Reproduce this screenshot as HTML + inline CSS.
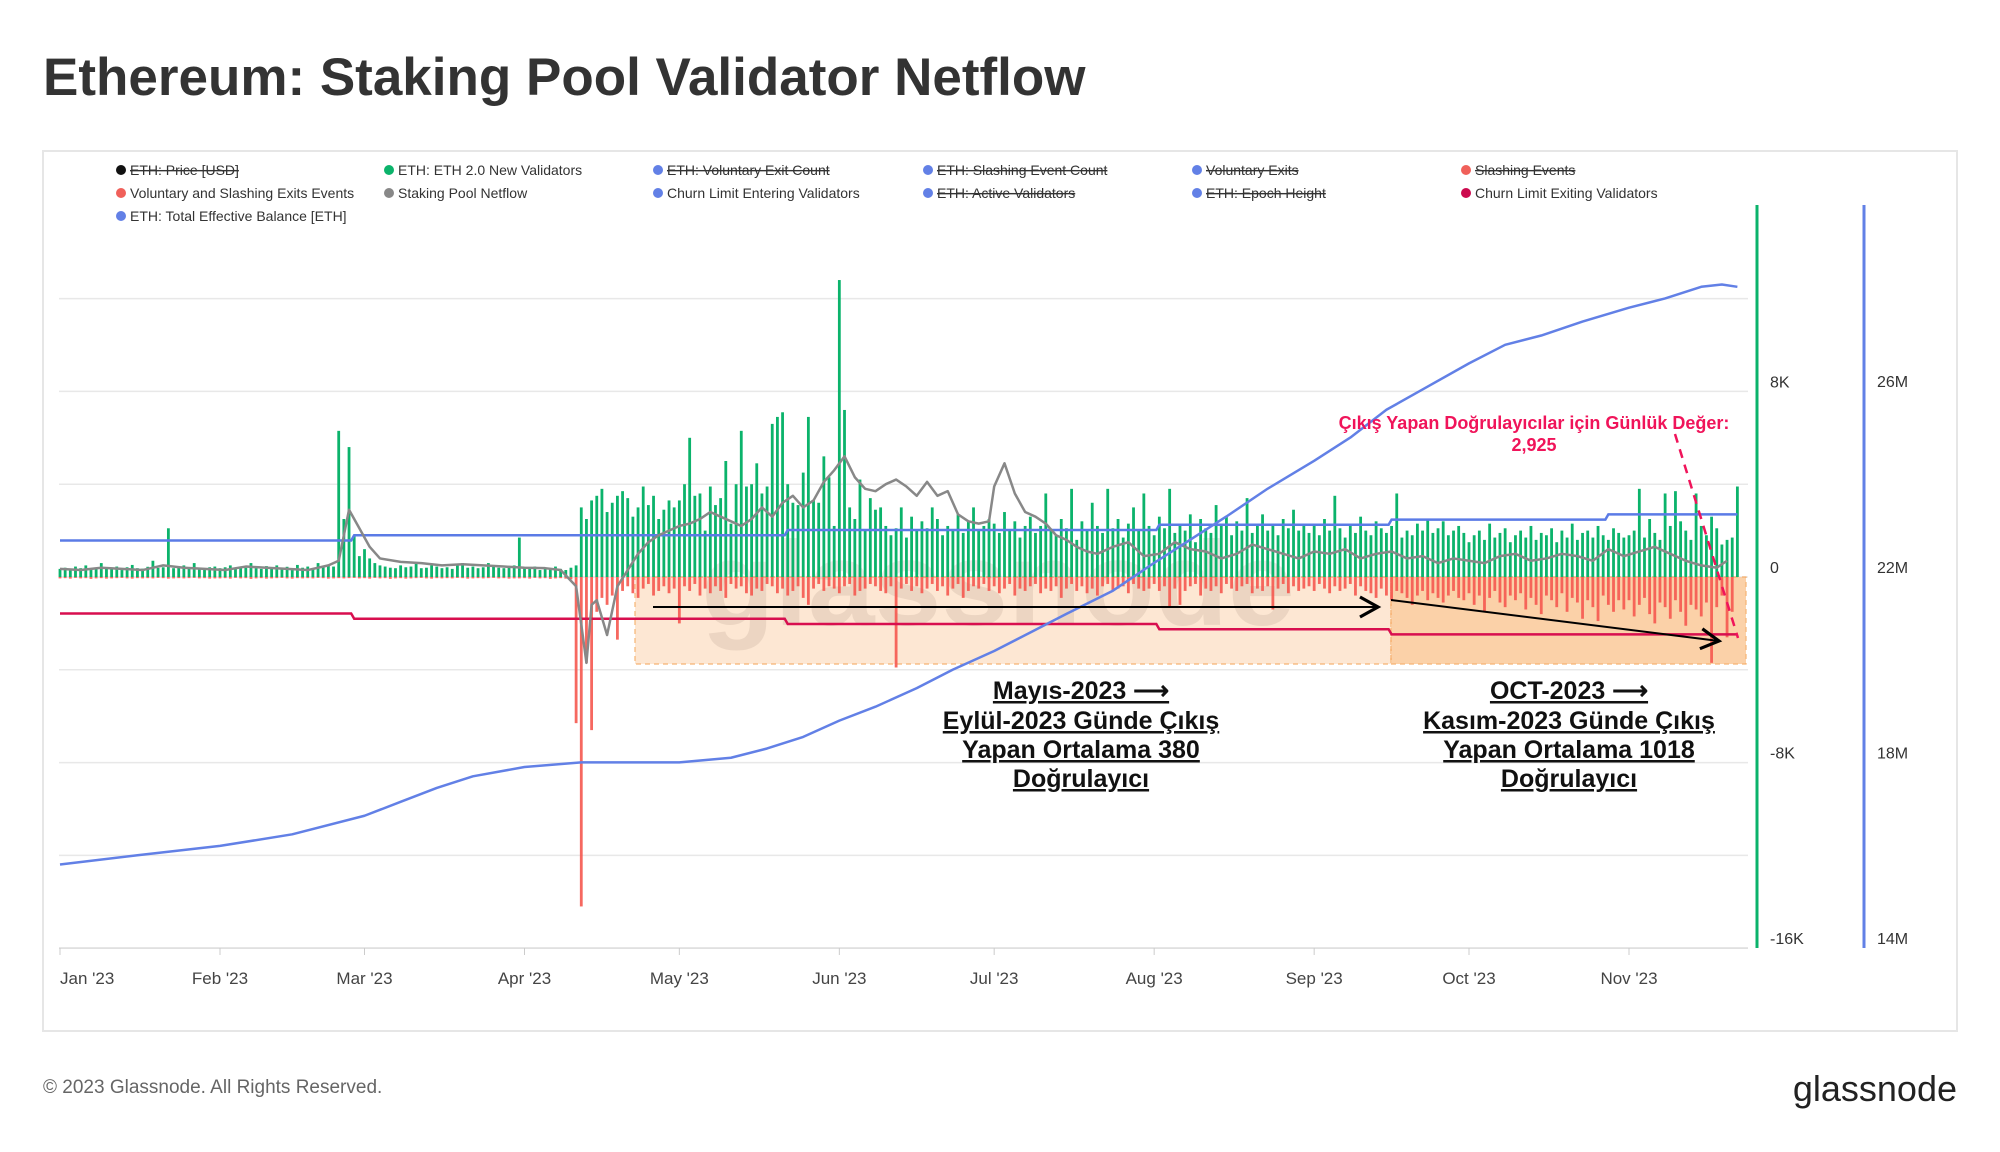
<!DOCTYPE html>
<html><head><meta charset="utf-8">
<style>
html,body{margin:0;padding:0;background:#fff;}
svg{display:block;font-family:"Liberation Sans","Noto Sans CJK JP",sans-serif;}
</style></head>
<body>
<svg id="chart" width="2000" height="1152" viewBox="0 0 2000 1152" xmlns="http://www.w3.org/2000/svg">
<text x="43" y="95" font-size="53" font-weight="600" fill="#333">Ethereum: Staking Pool Validator Netflow</text>
<rect x="43" y="151" width="1914" height="880" fill="none" stroke="#e6e6e6" stroke-width="2"/>
<g id="legend"></g>
<g id="grid"></g>
<rect x="635" y="577" width="756" height="87" fill="#fde3cc" opacity="0.85" stroke="#f5a65b" stroke-dasharray="5,4" stroke-width="1.2"/>
<rect x="1391" y="577" width="355" height="87" fill="#fbc99a" opacity="0.85" stroke="#f5a65b" stroke-dasharray="5,4" stroke-width="1.2"/>
<text x="998" y="625" font-size="120" font-weight="700" fill="#8a7060" opacity="0.14" text-anchor="middle">glassnode</text>
<g id="marks"></g>
<g id="axes"></g>
<defs><marker id="ah" markerWidth="12" markerHeight="12" refX="10" refY="6" orient="auto"><path d="M1,1 L10,6 L1,11" fill="none" stroke="#000" stroke-width="1.6"/></marker></defs>
<line x1="653" y1="607" x2="1378" y2="607" stroke="#000" stroke-width="2" marker-end="url(#ah)"/>
<line x1="1391" y1="600" x2="1719" y2="641" stroke="#000" stroke-width="2" marker-end="url(#ah)"/>
<line x1="1675" y1="434" x2="1738" y2="638" stroke="#f0145a" stroke-width="2.5" stroke-dasharray="9,7"/>
<g font-weight="700" fill="#f0145a" font-size="18" text-anchor="middle">
<text x="1534" y="429">Çıkış Yapan Doğrulayıcılar için Günlük Değer:</text>
<text x="1534" y="451">2,925</text>
</g>
<g font-weight="700" fill="#111" font-size="25" text-anchor="middle" text-decoration="underline">
<text x="1081" y="699">Mayıs-2023 ⟶</text>
<text x="1081" y="729">Eylül-2023 Günde Çıkış</text>
<text x="1081" y="758">Yapan Ortalama 380</text>
<text x="1081" y="787">Doğrulayıcı</text>
</g>
<g font-weight="700" fill="#111" font-size="25" text-anchor="middle" text-decoration="underline">
<text x="1569" y="699">OCT-2023 ⟶</text>
<text x="1569" y="729">Kasım-2023 Günde Çıkış</text>
<text x="1569" y="758">Yapan Ortalama 1018</text>
<text x="1569" y="787">Doğrulayıcı</text>
</g>
<text x="43" y="1093" font-size="19" fill="#666">© 2023 Glassnode. All Rights Reserved.</text>
<text x="1957" y="1101" font-size="36" fill="#222" text-anchor="end">glassnode</text>
</svg>
<script>
// Daily values from Jan 1 2023
const newValidators = [
350,400,300,450,380,500,320,410,600,350,380,450,300,420,520,380,360,440,700,390,420,2100,380,450,500,350,600,400,380,420,450,
380,420,500,360,450,400,600,380,350,470,420,500,380,440,360,520,400,450,380,600,420,500,450,6300,2500,5600,1800,900,
1200,800,600,500,450,400,380,500,420,450,600,380,400,500,450,380,420,350,500,600,400,450,380,420,600,500,400,380,450,500,1700,
400,350,450,300,400,380,450,350,300,400,500,3000,2500,3300,3500,3800,2800,3200,3500,3700,3400,2600,3000,3900,3100,3500,2500,2900,3300,3000,
3300,4000,6000,3500,3600,2000,3900,3100,3400,5000,2300,4000,6300,3900,4000,4900,3600,3900,6600,6900,7100,4000,3200,3100,4500,6900,3300,3200,5200,4300,2200,
12800,7200,3000,2500,4200,2000,3400,2900,3000,2200,1800,2100,3000,1700,2600,2000,2400,2100,3000,2500,1800,2200,2000,2700,1900,2400,3000,2000,2200,2500,
2300,1900,2800,2000,2400,1700,2200,2600,1900,2200,3600,2000,1800,2500,2100,3800,1600,2400,2000,3200,2200,1900,3800,2100,2500,1700,2300,3000,2000,3600,2200,
1800,2600,2100,3800,1900,2300,2000,2700,1500,2500,2100,1900,3100,2200,2600,1800,2400,2000,3400,1900,2300,2700,2000,2200,1800,2500,2100,2900,2000,2300,1900,
2200,1800,2500,2000,3500,2100,1700,2300,1900,2600,2000,1800,2400,2100,1900,2200,3600,1700,2000,1800,2300,2000,2500,1900,2100,2400,1800,2000,2200,1900,
1500,1800,2000,1600,2300,1700,1900,2100,1500,1800,2000,1700,2200,1600,1900,1800,2100,1500,2000,1700,2300,1600,1900,2000,1700,2200,1800,1600,2100,1900,1700,
1800,2000,3800,1700,2500,1900,1600,3600,2200,3700,2400,2000,1600,3600,2200,1800,2600,2100,1400,1600,1700,3900
];
const exits = [
-60,-50,-70,-40,-60,-50,-80,-60,-50,-70,-60,-50,-40,-60,-70,-50,-60,-50,-60,-40,-50,-70,-60,-50,-60,-50,-40,-60,-50,-70,-60,
-60,-50,-70,-40,-60,-50,-80,-60,-50,-70,-60,-50,-40,-60,-70,-50,-60,-50,-60,-40,-50,-70,-60,-50,-60,-50,-40,
-60,-50,-70,-40,-60,-50,-80,-60,-50,-70,-60,-50,-40,-60,-70,-50,-60,-50,-60,-40,-50,-70,-60,-50,-60,-50,-40,-60,-50,-70,-60,
-60,-50,-70,-40,-60,-50,-80,-60,-50,-70,-100,-6300,-14200,-3700,-6600,-1500,-900,-1200,-800,-2700,-600,-400,-700,-900,-500,-300,-800,-600,-400,-700,
-500,-2000,-400,-600,-300,-800,-500,-700,-400,-600,-900,-300,-500,-400,-700,-800,-500,-600,-300,-400,-700,-500,-800,-600,-400,-900,-1200,-500,-300,-600,-400,
-500,-700,-400,-300,-800,-600,-500,-300,-400,-600,-700,-400,-3900,-500,-300,-600,-400,-700,-500,-300,-600,-400,-800,-500,-300,-900,-600,-400,-500,-300,
-600,-400,-700,-500,-300,-800,-500,-600,-400,-300,-700,-500,-600,-400,-900,-500,-300,-600,-400,-700,-500,-800,-400,-300,-600,-500,-400,-700,-300,-500,-600,
-500,-300,-600,-400,-1300,-500,-1200,-600,-400,-300,-800,-500,-600,-400,-700,-300,-500,-600,-400,-300,-700,-500,-600,-400,-1400,-500,-300,-700,-400,-600,-500,
-400,-600,-300,-500,-700,-400,-600,-500,-300,-800,-400,-600,-700,-900,-500,-800,-1000,-600,-700,-900,-1200,-800,-600,-1000,-700,-900,-1100,-800,-600,-900,
-1000,-700,-1200,-800,-1500,-900,-600,-1100,-1300,-800,-1000,-700,-1400,-900,-1200,-1600,-800,-1000,-1300,-700,-1500,-900,-1100,-1800,-1000,-1300,-1900,-800,-1200,-1500,-1000,
-1400,-1000,-1700,-1200,-900,-1600,-2000,-1100,-1300,-1800,-1000,-1500,-2100,-1200,-1400,-1700,-1100,-3700,-1300,-800,-2600,-1500
];
const netflowDays = [0,4,8,12,16,20,24,28,32,36,40,44,48,52,54,56,58,60,62,66,70,74,78,82,86,90,94,97,100,102,103,104,106,108,110,112,114,116,118,120,122,124,126,128,130,132,134,136,138,140,142,144,146,148,150,152,154,156,158,160,162,164,166,168,170,172,174,176,178,180,181,183,185,187,189,191,193,195,197,199,201,204,207,210,213,216,219,222,225,228,231,234,237,240,243,246,249,252,255,258,261,264,267,270,273,276,279,282,285,288,291,294,297,300,303,306,309,312,315,318,321,323,325];
const netflowVals = [350,300,400,350,300,500,400,350,300,450,400,350,300,500,700,2900,2100,1300,800,650,600,500,550,500,450,400,380,300,-400,-3700,-1200,-1000,-2500,-400,300,1000,1500,1800,2000,2200,2300,2500,2800,2600,2400,2200,2500,3000,2600,3200,3500,3000,3300,4100,4600,5200,4300,3800,3700,4000,4200,3900,3500,4100,3500,3700,2700,2400,2300,2400,3900,4900,3600,2800,2600,2300,1800,1600,1300,1100,1000,1300,1500,900,1000,1500,1200,1100,800,1000,1400,1200,1000,800,1100,1000,1200,800,1000,1100,800,900,600,800,700,600,900,1000,700,800,1000,900,700,1200,900,1100,1300,1000,700,500,400,700];
const balanceDays = [0,15,31,45,59,66,73,80,90,101,120,130,137,144,151,158,166,173,181,188,195,204,212,219,226,234,243,250,257,265,273,280,287,295,304,311,318,322,325];
const balanceVals = [15.8,16.0,16.2,16.45,16.85,17.15,17.45,17.7,17.9,18.0,18.0,18.1,18.3,18.55,18.9,19.2,19.6,20.0,20.4,20.8,21.2,21.7,22.3,22.8,23.3,23.9,24.5,25.0,25.6,26.1,26.6,27.0,27.2,27.5,27.8,28.0,28.25,28.3,28.25];
const churnEnterDays = [0,57,141,213,258,300,325];
const churnEnterVals = [1575,1800,2025,2250,2475,2700,2700];
const churnExitDays = [0,57,141,213,258,325];
const churnExitVals = [-1575,-1800,-2025,-2250,-2475,-2475];
const monthLabels = ["Jan '23","Feb '23","Mar '23","Apr '23","May '23","Jun '23","Jul '23","Aug '23","Sep '23","Oct '23","Nov '23"];
const monthDays = [0,31,59,90,120,151,181,212,243,273,304];
const leftTicks = [8000,0,-8000,-16000];
const leftTickLabels = ["8K","0","-8K","-16K"];
const rightTicks = [26,22,18,14];
const rightTickLabels = ["26M","22M","18M","14M"];
const legendItems = ["ETH: Price [USD]","ETH: ETH 2.0 New Validators","ETH: Voluntary Exit Count","ETH: Slashing Event Count","Voluntary Exits","Slashing Events","Voluntary and Slashing Exits Events","Staking Pool Netflow","Churn Limit Entering Validators","ETH: Active Validators","ETH: Epoch Height","Churn Limit Exiting Validators","ETH: Total Effective Balance [ETH]"];
const legendColors = ["#111","#0bb36b","#6280e6","#6280e6","#6280e6","#f0605a","#f0605a","#888","#6280e6","#6280e6","#6280e6","#cc0a4e","#6280e6"];
const legendStruck = [1,0,1,1,1,1,0,0,0,1,1,0,0];

const NS="http://www.w3.org/2000/svg";
const X0=60, PPD=(1629-60)/304;
const xs=d=>X0+d*PPD;
const Y0=577, PX4K=92.8;
const yl=v=>Y0-v*(PX4K/4000);
const yr=m=>948-(m-14)*(2*PX4K/4);
function mk(tag,attrs,parent){const e=document.createElementNS(NS,tag);for(const k in attrs)e.setAttribute(k,attrs[k]);parent.appendChild(e);return e;}
const marks=document.getElementById('marks'), axes=document.getElementById('axes'), grid=document.getElementById('grid'), legend=document.getElementById('legend');

const colX=[121,389,658,928,1197,1466], rowY=[170,193,216];
legendItems.forEach((t,i)=>{
  const cx=colX[i%6], cy=rowY[Math.floor(i/6)];
  const g=mk('g',{},legend);
  
  
  mk('circle',{cx:cx,cy:cy,r:5,fill:legendColors[i]},g);
  const tx=mk('text',{x:cx+9,y:cy+5,'font-size':14,fill:'#333'},g);
  tx.textContent=t;
  if(legendStruck[i]) tx.setAttribute('text-decoration','line-through');
});

for(let v=12000; v>=-16000; v-=4000){
  const l=mk('line',{x1:59,x2:1748,y1:yl(v),y2:yl(v),stroke:'#e8e8e8','stroke-width':1.5},grid);
  
  
}

newValidators.forEach((v,i)=>{
  const r=mk('rect',{x:xs(i)-1.4,width:2.8,y:yl(v),height:Math.max(0.5,yl(0)-yl(v)),fill:'#0bb36b'},marks);
  
  
});
exits.forEach((v,i)=>{
  const r=mk('rect',{x:xs(i)-1.4,width:2.8,y:yl(0),height:Math.max(0.5,yl(v)-yl(0)),fill:'#f5584f',opacity:0.9},marks);
  
  
});
function stepPath(days,vals,fy){let d='';days.forEach((dd,i)=>{const x=xs(dd),y=fy(vals[i]);if(i===0)d+=`M${x},${y}`;else{d+=`L${x-3},${fy(vals[i-1])}L${x},${y}`;}});return d;}
const ce=mk('path',{d:stepPath(churnEnterDays,churnEnterVals,yl),fill:'none',stroke:'#5b7be6','stroke-width':2.5},marks);


const cx=mk('path',{d:stepPath(churnExitDays,churnExitVals,yl),fill:'none',stroke:'#d80f4f','stroke-width':2.5},marks);


const nf=mk('path',{d:netflowDays.map((d,i)=>(i?'L':'M')+xs(d)+','+yl(netflowVals[i])).join(''),fill:'none',stroke:'#888','stroke-width':2.5,'stroke-linejoin':'round'},marks);


const bl=mk('path',{d:balanceDays.map((d,i)=>(i?'L':'M')+xs(d)+','+yr(balanceVals[i])).join(''),fill:'none',stroke:'#6280e6','stroke-width':2.5,'stroke-linejoin':'round'},marks);



const xa=mk('line',{x1:59,x2:1748,y1:948,y2:948,stroke:'#ddd','stroke-width':1.5},axes);


monthLabels.forEach((m,i)=>{
  const x=xs(monthDays[i]);
  mk('line',{x1:x,x2:x,y1:948,y2:955,stroke:'#ccc'},axes);
  const t=mk('text',{x:x,y:984,'font-size':17,fill:'#444','text-anchor':i===0?'start':'middle'},axes);
  
  
  t.textContent=m;
});
const ga=mk('line',{x1:1757,x2:1757,y1:205,y2:948,stroke:'#0bb36b','stroke-width':3},axes);


const ba=mk('line',{x1:1864,x2:1864,y1:205,y2:948,stroke:'#6280e6','stroke-width':3},axes);


leftTicks.forEach((v,i)=>{
  const t=mk('text',{x:1770,y:yl(v)-4,'font-size':16,fill:'#333'},axes);
  
  
  t.textContent=leftTickLabels[i];
});
rightTicks.forEach((v,i)=>{
  const t=mk('text',{x:1877,y:yr(v)-4,'font-size':16,fill:'#333'},axes);
  
  
  t.textContent=rightTickLabels[i];
});
</script>
</body></html>
